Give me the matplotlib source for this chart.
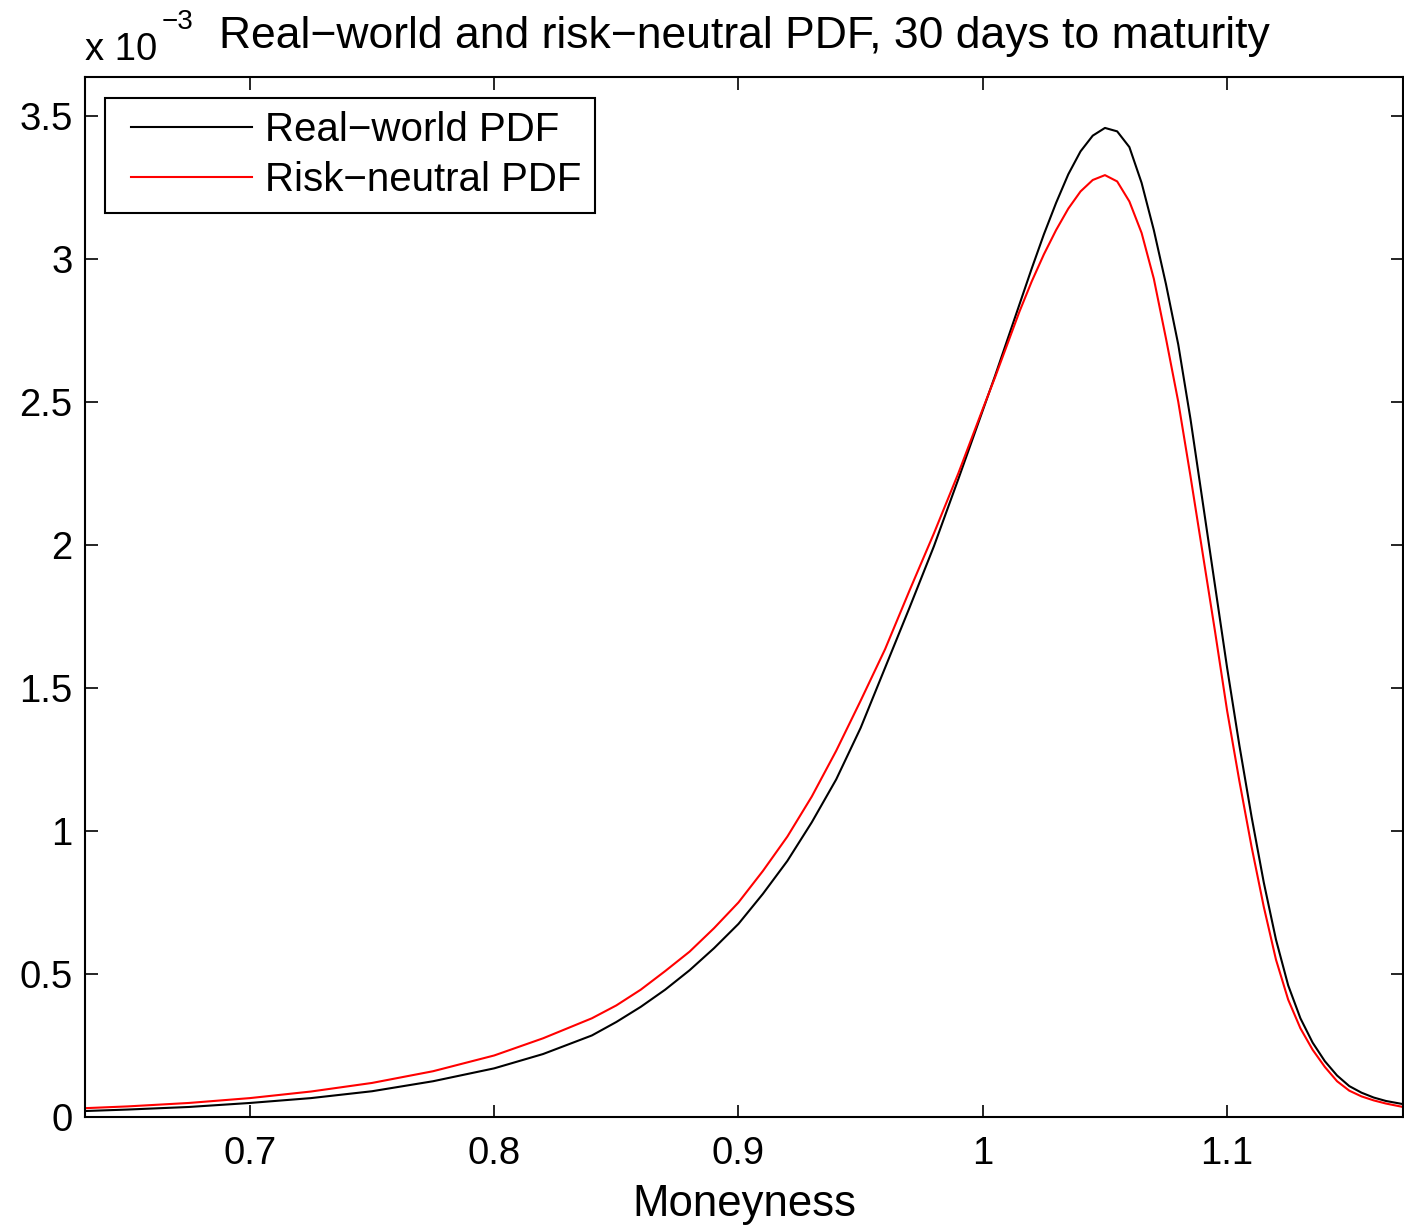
import matplotlib
matplotlib.use("Agg")
import matplotlib.pyplot as plt
import numpy as np

plt.rcParams['font.family'] = ['Liberation Sans', 'DejaVu Sans']

# Moneyness grid and densities (values in units of 1e-3)
moneyness = [0.633, 0.65, 0.675, 0.70, 0.725, 0.75, 0.775, 0.80, 0.82, 0.84,
             0.85, 0.86, 0.87, 0.88, 0.89, 0.90, 0.91, 0.92, 0.93, 0.94,
             0.95, 0.96, 0.97, 0.98, 0.99, 1.00, 1.005, 1.01, 1.015, 1.02,
             1.025, 1.03, 1.035, 1.04, 1.045, 1.05, 1.055, 1.06, 1.065, 1.07,
             1.075, 1.08, 1.085, 1.09, 1.095, 1.10, 1.105, 1.11, 1.115, 1.12,
             1.125, 1.13, 1.135, 1.14, 1.145, 1.15, 1.155, 1.16, 1.165, 1.172]
real_world = [0.021, 0.026, 0.035, 0.049, 0.066, 0.090, 0.125, 0.170, 0.220, 0.285,
              0.332, 0.385, 0.445, 0.513, 0.590, 0.675, 0.780, 0.895, 1.030, 1.180,
              1.360, 1.570, 1.780, 1.995, 2.230, 2.470, 2.590, 2.715, 2.840, 2.965,
              3.085, 3.195, 3.295, 3.375, 3.430, 3.457, 3.445, 3.390, 3.265, 3.100,
              2.910, 2.700, 2.440, 2.150, 1.860, 1.570, 1.300, 1.050, 0.820, 0.620,
              0.460, 0.345, 0.260, 0.195, 0.145, 0.108, 0.085, 0.068, 0.056, 0.045]
risk_neutral = [0.031, 0.037, 0.049, 0.066, 0.089, 0.119, 0.160, 0.215, 0.275, 0.345,
                0.390, 0.445, 0.510, 0.578, 0.660, 0.750, 0.860, 0.980, 1.120, 1.280,
                1.455, 1.635, 1.840, 2.040, 2.250, 2.475, 2.585, 2.700, 2.815, 2.920,
                3.015, 3.100, 3.175, 3.235, 3.275, 3.292, 3.270, 3.200, 3.090, 2.930,
                2.720, 2.500, 2.240, 1.970, 1.700, 1.420, 1.175, 0.945, 0.735, 0.550,
                0.410, 0.310, 0.235, 0.175, 0.125, 0.092, 0.072, 0.058, 0.047, 0.035]

xticks = [0.7, 0.8, 0.9, 1.0, 1.1]
xticklabels = ['0.7', '0.8', '0.9', '1', '1.1']
yticks = [0, 0.5, 1, 1.5, 2, 2.5, 3, 3.5]
yticklabels = ['0', '0.5', '1', '1.5', '2', '2.5', '3', '3.5']

fig = plt.figure(figsize=(14.04, 12.28), dpi=100)
ax = fig.add_axes([0.0605, 0.0904, 0.9388, 0.8469])

ax.plot(moneyness, real_world, color='black', lw=1.5, label='Real\u2212world PDF')
ax.plot(moneyness, risk_neutral, color='red', lw=1.5, label='Risk\u2212neutral PDF')

ax.set_xlim(0.6325, 1.172)
ax.set_ylim(0, 3.635)
ax.set_xticks(xticks)
ax.set_xticklabels(xticklabels)
ax.set_yticks(yticks)
ax.set_yticklabels(yticklabels)
ax.tick_params(direction='in', length=9, width=1.2, top=True, right=True,
               labelsize=27.5, colors='black')
ax.tick_params(axis='x', pad=14)
ax.tick_params(axis='y', pad=9)
for s in ax.spines.values():
    s.set_linewidth(1.5)

ax.set_xlabel('Moneyness', fontsize=31.5, labelpad=8)
ax.set_title('Real\u2212world and risk\u2212neutral PDF, 30 days to maturity',
             fontsize=32, pad=21)
# MATLAB-style exponent label above the y axis
ax.text(0.0, 1.0163, 'x 10', transform=ax.transAxes, fontsize=27.5,
        ha='left', va='baseline')
ax.text(0.0584, 1.046, '\u22123', transform=ax.transAxes, fontsize=20,
        ha='left', va='baseline')

leg = ax.legend(loc='upper left', bbox_to_anchor=(0.0152, 0.98),
                borderaxespad=0, fontsize=29, numpoints=2, handlelength=3.6,
                handletextpad=0.03, borderpad=0.34, labelspacing=0.29,
                fancybox=False, framealpha=1, edgecolor='black')
leg.get_frame().set_linewidth(1.5)

fig.savefig('out.png', dpi=100)
